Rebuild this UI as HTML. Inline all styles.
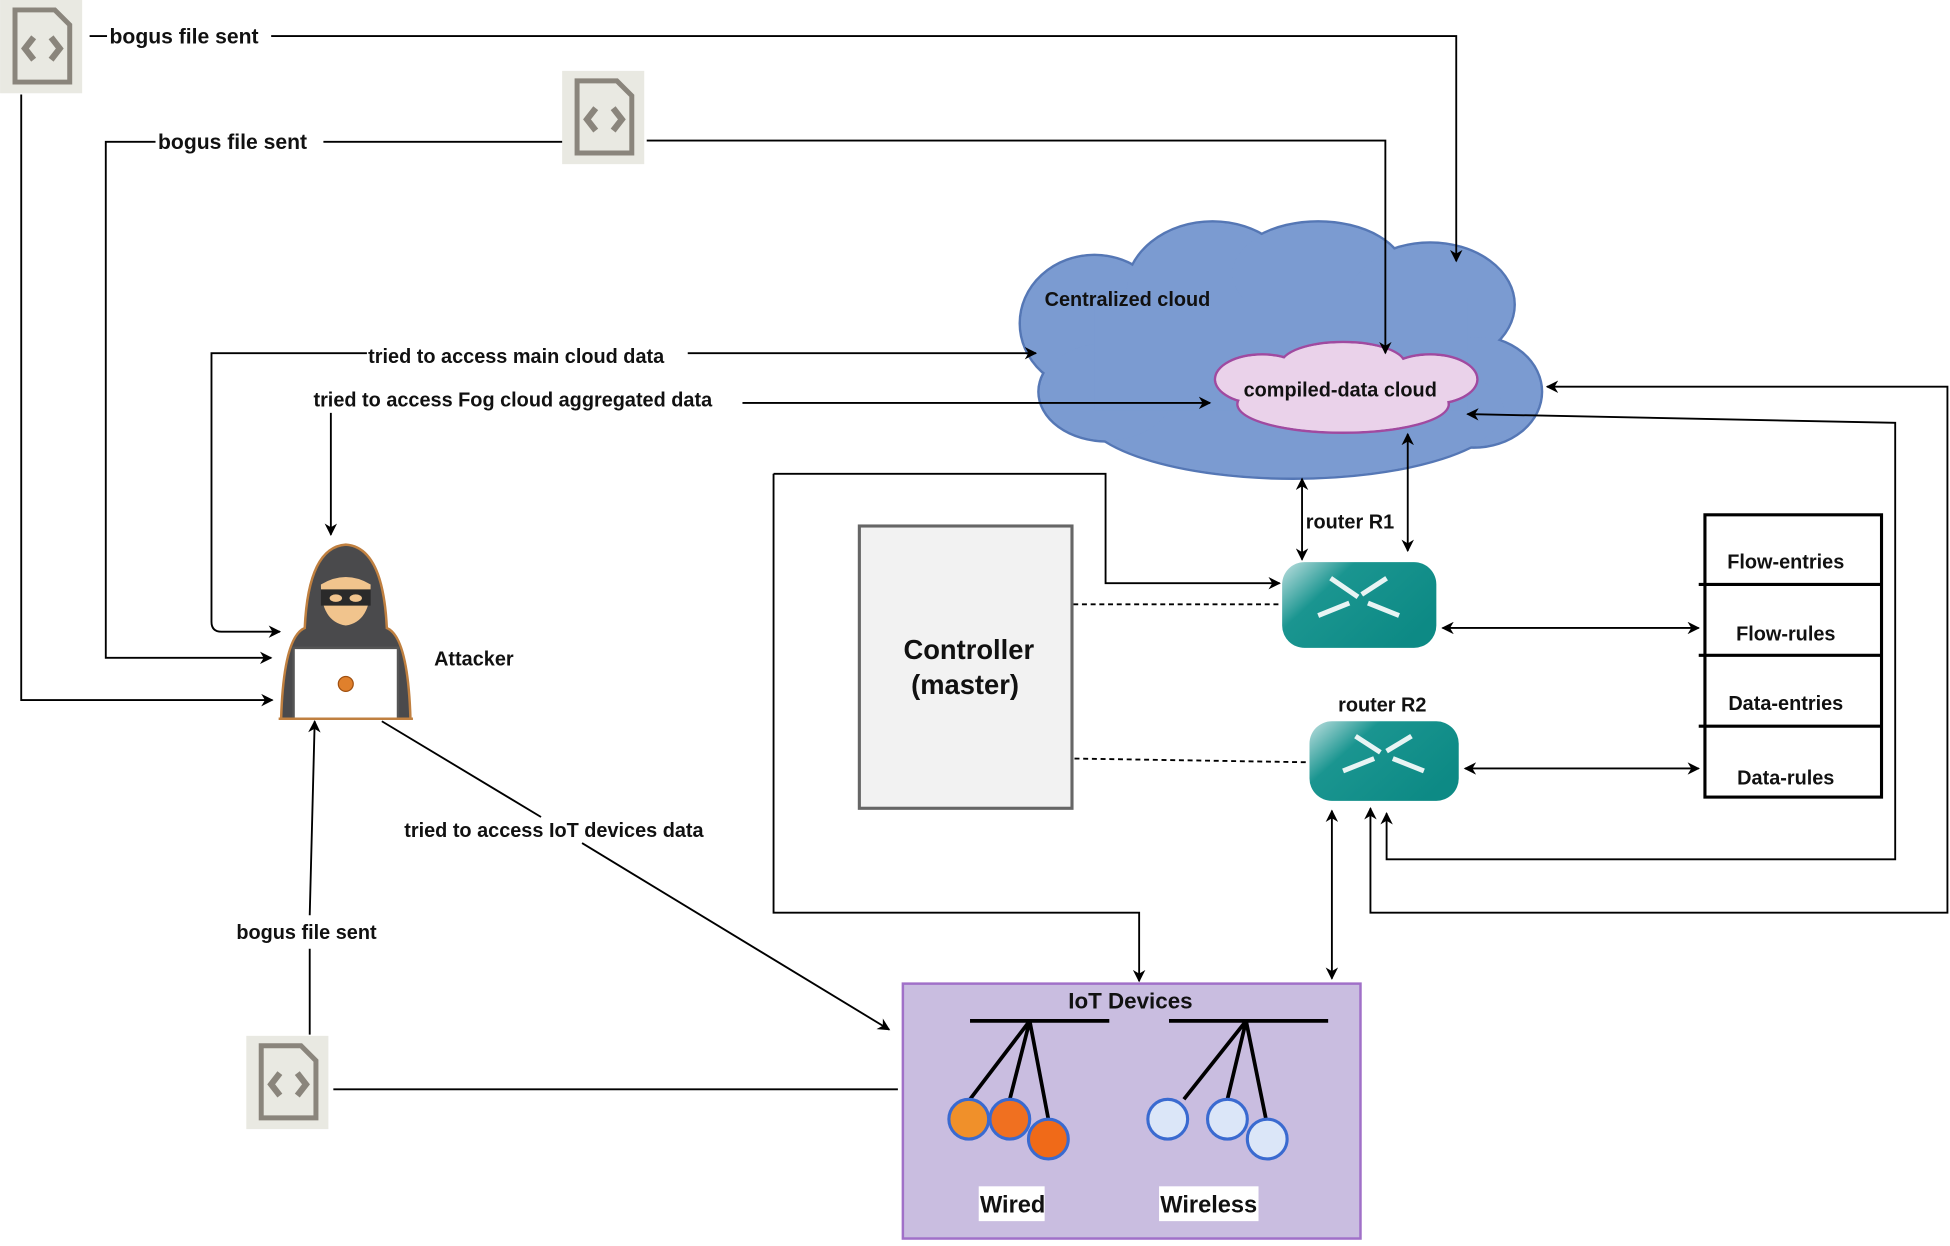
<!DOCTYPE html>
<html><head><meta charset="utf-8"><style>
html,body{margin:0;padding:0;background:#fff;}
svg{display:block;}
text{font-family:"Liberation Sans",Arial,sans-serif;font-weight:bold;fill:#111;}
</style></head><body>
<svg width="1950" height="1246" viewBox="0 0 1568 1002" xmlns="http://www.w3.org/2000/svg">
<defs>
<marker id="a" markerWidth="10" markerHeight="10" refX="9" refY="5" orient="auto" markerUnits="userSpaceOnUse"><path d="M0,0 L10,5 L0,10 L3,5 z" fill="#000"/></marker>
<marker id="s" markerWidth="10" markerHeight="10" refX="1" refY="5" orient="auto" markerUnits="userSpaceOnUse"><path d="M10,0 L0,5 L10,10 L7,5 z" fill="#000"/></marker>
<linearGradient id="rg" x1="0" y1="0" x2="1" y2="0.6"><stop offset="0" stop-color="#bfe0e0"/><stop offset="0.35" stop-color="#1a9590"/><stop offset="1" stop-color="#0d8a85"/></linearGradient>
<g id="file">
<rect x="0" y="0" width="66" height="75" fill="#e9e9e2"/>
<path d="M12,8 H44 L56,20 V66 H12 Z" fill="none" stroke="#8a857c" stroke-width="4"/>
<path d="M27,30 L20,39 L27,48 M41,30 L48,39 L41,48" fill="none" stroke="#8a857c" stroke-width="5"/>
</g>
</defs>

<g fill="#7b9bd1" stroke="#5577b5" stroke-width="2">
<ellipse cx="880" cy="260" rx="60" ry="55"/><ellipse cx="975" cy="235" rx="70" ry="57"/><ellipse cx="1060" cy="220" rx="70" ry="42"/>
<ellipse cx="1150" cy="245" rx="68" ry="50"/><ellipse cx="1185" cy="315" rx="55" ry="45"/><ellipse cx="1040" cy="330" rx="170" ry="55"/>
<ellipse cx="890" cy="315" rx="55" ry="40"/>
</g>
<g fill="#7b9bd1">
<ellipse cx="880" cy="260" rx="59" ry="54"/><ellipse cx="975" cy="235" rx="69" ry="56"/><ellipse cx="1060" cy="220" rx="69" ry="41"/>
<ellipse cx="1150" cy="245" rx="67" ry="49"/><ellipse cx="1185" cy="315" rx="54" ry="44"/><ellipse cx="1040" cy="330" rx="169" ry="54"/>
<ellipse cx="890" cy="315" rx="54" ry="39"/><rect x="880" y="240" width="300" height="90"/>
</g>
<g fill="#ead2ea" stroke="#a04aa0" stroke-width="2">
<ellipse cx="1015" cy="305" rx="38" ry="20"/><ellipse cx="1080" cy="293" rx="50" ry="18"/><ellipse cx="1150" cy="305" rx="38" ry="20"/><ellipse cx="1080" cy="325" rx="85" ry="23"/>
</g>
<g fill="#ead2ea"><ellipse cx="1015" cy="305" rx="37" ry="19"/><ellipse cx="1080" cy="293" rx="49" ry="17"/><ellipse cx="1150" cy="305" rx="37" ry="19"/><ellipse cx="1080" cy="325" rx="84" ry="22"/></g>
<text x="840" y="246" font-size="16">Centralized cloud</text>
<text x="1000" y="319" font-size="16">compiled-data cloud</text>

<use href="#file" x="0" y="0"/>
<use href="#file" x="452" y="57"/>
<use href="#file" x="198" y="833"/>

<g stroke="#000" stroke-width="1.5" fill="none">
<path d="M72,29 H86 M218,29 H1171 V210" marker-end="url(#a)"/>
<path d="M17,76 V563 H219" marker-end="url(#a)"/>
<path d="M520,113 H1114 V284" marker-end="url(#a)"/>
<path d="M260,114 H452"/>
<path d="M125,114 H85 V529 H218" marker-end="url(#a)"/>
<path d="M553,284 H833" marker-end="url(#a)"/>
<path d="M295,284 H170 V500 Q170,508 178,508 H225" marker-end="url(#a)"/>
<path d="M597,324 H973" marker-end="url(#a)"/>
<path d="M266,332 V430" marker-end="url(#a)"/>
<path d="M249,832 V763 M249,736 L253,580" marker-end="url(#a)"/>
<path d="M268,876 H722"/>
<path d="M307,580 L435,657 M468,678 L715,828" marker-end="url(#a)"/>
<path d="M1047,450 V385" marker-end="url(#a)" marker-start="url(#s)"/>
<path d="M1132,443 V349" marker-end="url(#a)" marker-start="url(#s)"/>
<path d="M622,381 H889 V469 H1029" marker-end="url(#a)"/>
<path d="M622,381 V734 H916 V789" marker-end="url(#a)"/>
<path d="M1160,505 H1366" marker-end="url(#a)" marker-start="url(#s)"/>
<path d="M1178,618 H1366" marker-end="url(#a)" marker-start="url(#s)"/>
<path d="M1071,652 V787" marker-end="url(#a)" marker-start="url(#s)"/>
<path d="M1115,654 V691 H1524 V340 L1180,333" marker-end="url(#a)" marker-start="url(#s)"/>
<path d="M1102,650 V734 H1566 V311 H1244" marker-end="url(#a)" marker-start="url(#s)"/>
</g>
<g stroke="#000" stroke-width="1.5" stroke-dasharray="4,3">
<path d="M863,486 H1029"/><path d="M864,610 L1052,613"/>
</g>

<text x="88" y="35" font-size="17">bogus file sent</text>
<text x="127" y="120" font-size="17">bogus file sent</text>
<text x="296" y="292" font-size="16">tried to access main cloud data</text>
<text x="252" y="327" font-size="16">tried to access Fog cloud aggregated data</text>
<text x="325" y="673" font-size="16">tried to access IoT devices data</text>
<text x="190" y="755" font-size="16">bogus file sent</text>
<text x="349" y="535" font-size="16">Attacker</text>

<g>
<path d="M245,505 Q248,440 278,438 Q308,440 311,505 Q328,512 330,578 H226 Q228,512 245,505 Z" fill="#4a4a4c" stroke="#c08040" stroke-width="2"/>
<path d="M258,470 Q278,458 298,470 Q298,500 278,503 Q258,500 258,470 Z" fill="#f1c48d"/>
<path d="M258,474 H298 V487 H258 Z" fill="#2a2a2a"/>
<ellipse cx="270" cy="481" rx="5" ry="3" fill="#f1c48d"/><ellipse cx="286" cy="481" rx="5" ry="3" fill="#f1c48d"/>
<rect x="236" y="521" width="84" height="57" fill="#fff" stroke="#555" stroke-width="2"/>
<circle cx="278" cy="550" r="6" fill="#e0802c" stroke="#a05010"/>
<line x1="224" y1="578" x2="332" y2="578" stroke="#c08040" stroke-width="2"/>
</g>

<rect x="691" y="423" width="171" height="227" fill="#f2f2f2" stroke="#666" stroke-width="2.5"/>
<text x="779" y="530" font-size="22" text-anchor="middle" fill="#333">Controller</text>
<text x="776" y="558" font-size="22" text-anchor="middle" fill="#333">(master)</text>

<rect x="1031" y="452" width="124" height="69" rx="18" fill="url(#rg)"/>
<path d="M1070,465 L1092,480 M1115,465 L1095,478 M1060,495 L1085,485 M1100,485 L1125,495" stroke="#e8f4f4" stroke-width="4"/>
<rect x="1053" y="580" width="120" height="64" rx="18" fill="url(#rg)"/>
<path d="M1090,592 L1110,605 M1135,592 L1115,604 M1080,620 L1105,610 M1120,610 L1145,620" stroke="#e8f4f4" stroke-width="4"/>
<text x="1050" y="425" font-size="16">router R1</text>
<text x="1076" y="572" font-size="16">router R2</text>

<g stroke="#000" stroke-width="2.5" fill="#fff">
<rect x="1371" y="414" width="142" height="227"/>
<path d="M1366,470 H1513 M1366,527 H1513 M1366,584 H1513"/>
</g>
<text x="1436" y="457" font-size="16" text-anchor="middle">Flow-entries</text>
<text x="1436" y="515" font-size="16" text-anchor="middle">Flow-rules</text>
<text x="1436" y="571" font-size="16" text-anchor="middle">Data-entries</text>
<text x="1436" y="631" font-size="16" text-anchor="middle">Data-rules</text>

<rect x="726" y="791" width="368" height="205" fill="#c9bde0" stroke="#a070c8" stroke-width="2"/>
<text x="909" y="811" font-size="18" text-anchor="middle" font-weight="normal" fill="#222">IoT Devices</text>
<g stroke="#000" stroke-width="3">
<path d="M780,821 H892 M828,821 L780,884 M828,821 L812,884 M828,821 L843,900"/>
<path d="M940,821 H1068 M1002,821 L952,884 M1002,821 L987,884 M1002,821 L1018,900"/>
</g>
<g stroke="#3a6ad0" stroke-width="2.5">
<circle cx="779" cy="900" r="16" fill="#f0902a"/><circle cx="812" cy="900" r="16" fill="#f07020"/><circle cx="843" cy="916" r="16" fill="#f06a18"/>
<circle cx="939" cy="900" r="16" fill="#dbe6f8"/><circle cx="987" cy="900" r="16" fill="#dbe6f8"/><circle cx="1019" cy="916" r="16" fill="#dbe6f8"/>
</g>
<rect x="787" y="954" width="53" height="28" fill="#fff"/>
<rect x="932" y="954" width="80" height="28" fill="#fff"/>
<text x="788" y="975" font-size="19" font-weight="normal" fill="#000">Wired</text>
<text x="933" y="975" font-size="19" font-weight="normal" fill="#000">Wireless</text>
</svg>
</body></html>
